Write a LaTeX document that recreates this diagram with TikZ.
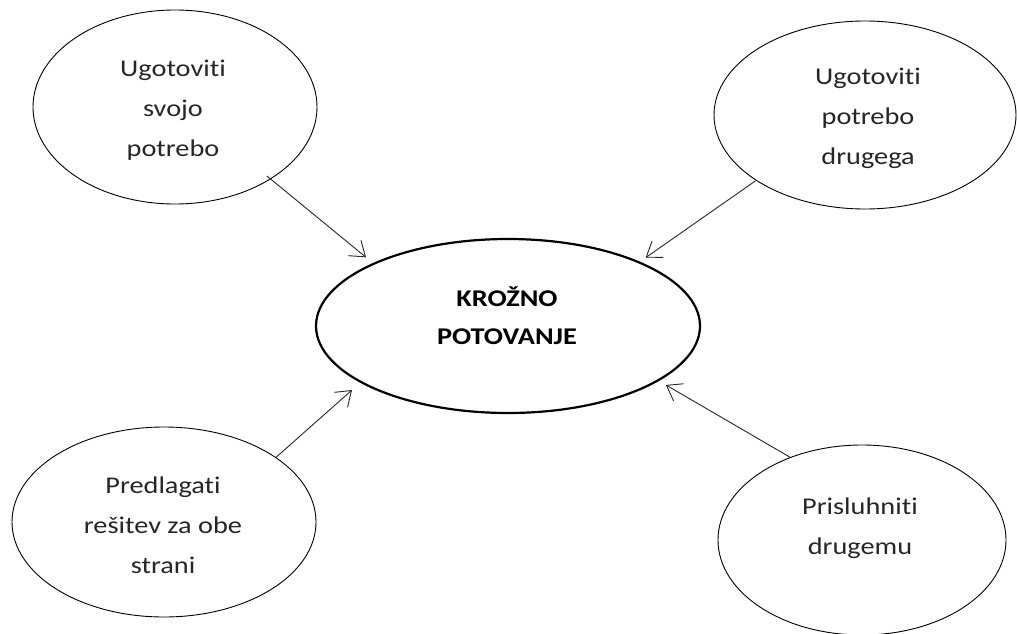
\documentclass[tikz,border=0pt]{standalone}
\usepackage{fontspec}
\setmainfont[FakeStretch=1.18,Ligatures={NoCommon,NoContextual},RawFeature={-liga;-clig;-dlig}]{Carlito}
\usetikzlibrary{shapes.geometric,arrows.meta}
\begin{document}
\begin{tikzpicture}[x=1pt,y=-1pt,
  bubble/.style={ellipse,draw=black,line width=0.9pt,inner sep=0pt},
  hub/.style={ellipse,draw=black,line width=2.2pt,inner sep=0pt},
  lbl/.style={align=center,inner sep=0pt,text=black!85,font=\fontsize{24}{40}\selectfont},
  hublbl/.style={align=center,inner sep=0pt,text=black,font=\fontsize{24}{38}\selectfont\bfseries},
  link/.style={draw=black!85,line width=0.9pt,-{Straight Barb[length=14pt,width=20pt,line width=0.9pt]}}]
\useasboundingbox (0,0) rectangle (1017,634);
% shapes
\node[hub,minimum width=384pt,minimum height=174pt] (c) at (508,326) {};
\node[bubble,minimum width=284pt,minimum height=194pt] (tl) at (175,107) {};
\node[bubble,minimum width=302pt,minimum height=188pt] (tr) at (865,115) {};
\node[bubble,minimum width=304pt,minimum height=190pt] (bl) at (164,522) {};
\node[bubble,minimum width=288pt,minimum height=190pt] (br) at (862,540) {};
% texts
\node[hublbl] (ct) at (507,316) {KROŽNO\\POTOVANJE};
\node[lbl] (tlt) at (173,110) {Ugotoviti\\svojo\\potrebo};
\node[lbl] (trt) at (868,118) {Ugotoviti\\potrebo\\drugega};
\node[lbl] (blt) at (163,525) {Predlagati\\rešitev za obe\\strani};
\node[lbl] (brt) at (860,528) {Prisluhniti\\drugemu};
% connectors
\draw[link,shorten <=-5pt,shorten >=9pt] (tl.-37) -- (c.155.5);
\draw[link,shorten >=7pt] (tr.-149.3) -- (c.26.1);
\draw[link,shorten >=11pt] (bl.30.7) -- (c.-159.9);
\draw[link,shorten >=8pt] (br.131.3) -- (c.-20.8);
\end{tikzpicture}
\end{document}
